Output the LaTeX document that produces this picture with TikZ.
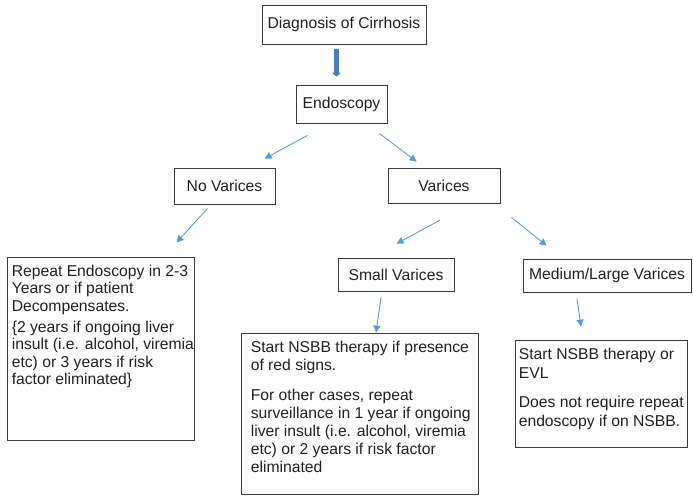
\documentclass[tikz,border=0pt]{standalone}
\usepackage{fontspec}
\setmainfont{Liberation Sans}
\usetikzlibrary{arrows.meta,positioning}
\definecolor{ink}{HTML}{231F20}
\definecolor{boxline}{HTML}{3A3A3A}
\definecolor{arrowblue}{HTML}{5B9BD5}
\definecolor{arrowdeep}{HTML}{4A7EBB}
\tikzset{
  flowbox/.style={
    draw=boxline,
    line width=0.8pt,
    text=ink,
    font=\fontsize{15.7}{18}\selectfont,
    inner sep=0pt
  },
  notebox/.style={
    draw=boxline,
    line width=0.8pt,
    inner sep=0pt
  },
  notetext/.style={
    text=ink,
    align=left,
    inner sep=0pt,
    anchor=north west
  },
  thinarrow/.style={
    draw=arrowblue,
    line width=0.9pt,
    -{Triangle[length=7pt,width=7pt]}
  },
  thickarrow/.style={
    draw=arrowdeep,
    line width=4.5pt,
    -{Triangle[length=4pt,width=9pt]}
  }
}

\begin{document}
\begin{tikzpicture}[x=1pt,y=-1pt]

% Page
\useasboundingbox (0,0) rectangle (693,496);

% ---------- Decision boxes ----------
\node[flowbox, minimum width=164pt, minimum height=39pt] (diag) at (344,24.5) {Diagnosis of Cirrhosis};
\node[flowbox, minimum width=91pt, minimum height=38pt] (endo) at (341.5,104) {Endoscopy};
\node[flowbox, minimum width=101pt, minimum height=36pt] (novar) at (224.5,186) {No Varices};
\node[flowbox, minimum width=112pt, minimum height=35pt] (var) at (444,185.5) {Varices};
\node[flowbox, minimum width=116pt, minimum height=33pt] (small) at (396,274.5) {Small Varices};
\node[flowbox, minimum width=168pt, minimum height=33pt] (medlg) at (607,275.5) {Medium/Large Varices};

% ---------- Advice boxes ----------
\node[notebox, minimum width=187pt, minimum height=183pt] (novarnote) at (100.5,348.5) {};
\node[notetext, font=\fontsize{15.7}{17.5}\selectfont] (novartext)
  at ([shift={(5pt,-8pt)}]novarnote.north west)
  {Repeat Endoscopy in 2-3\\Years or if patient\\Decompensates.\\[3.5pt]
   \{2 years if ongoing liver\\insult (i.e. alcohol, viremia\\etc) or 3 years if risk\\factor eliminated\}};

\node[notebox, minimum width=237pt, minimum height=161pt] (smallnote) at (359.5,413.5) {};
\node[notetext, font=\fontsize{15.7}{18}\selectfont] (smalltext)
  at ([shift={(10pt,-8pt)}]smallnote.north west)
  {Start NSBB therapy if presence\\of red signs.\\[12pt]
   For other cases, repeat\\surveillance in 1 year if ongoing\\liver insult (i.e. alcohol, viremia\\etc) or 2 years if risk factor\\eliminated};

\node[notebox, minimum width=172pt, minimum height=107pt] (medlgnote) at (601,393.5) {};
\node[notetext, font=\fontsize{15.7}{19}\selectfont] (medlgtext)
  at ([shift={(4pt,-8.5pt)}]medlgnote.north west)
  {Start NSBB therapy or\\EVL\\[10pt]
   Does not require repeat\\endoscopy if on NSBB.};

% ---------- Arrows ----------
\draw[thickarrow] ([shift={(-7.5pt,-5pt)}]diag.south) -- ([shift={(-5pt,8pt)}]endo.north);

\draw[thinarrow] ([shift={(12pt,-12pt)}]endo.south west) -- ([shift={(91pt,9pt)}]novar.north west);
\draw[thinarrow] ([shift={(-8pt,-10pt)}]endo.south east) -- ([shift={(29pt,6pt)}]var.north west);

\draw[thinarrow] ([shift={(34pt,-4pt)}]novar.south west) -- ([shift={(-18pt,14pt)}]novarnote.north east);

\draw[thinarrow] ([shift={(52pt,-17pt)}]var.south west) -- ([shift={(59pt,14pt)}]small.north west);
\draw[thinarrow] ([shift={(11pt,-14pt)}]var.south east) -- ([shift={(24pt,13pt)}]medlg.north west);

\draw[thinarrow] ([shift={(-15pt,-6pt)}]small.south) -- ([shift={(16.5pt,0pt)}]smallnote.north);
\draw[thinarrow] ([shift={(-30pt,-6pt)}]medlg.south) -- ([shift={(-20pt,13pt)}]medlgnote.north);

\end{tikzpicture}
\end{document}
